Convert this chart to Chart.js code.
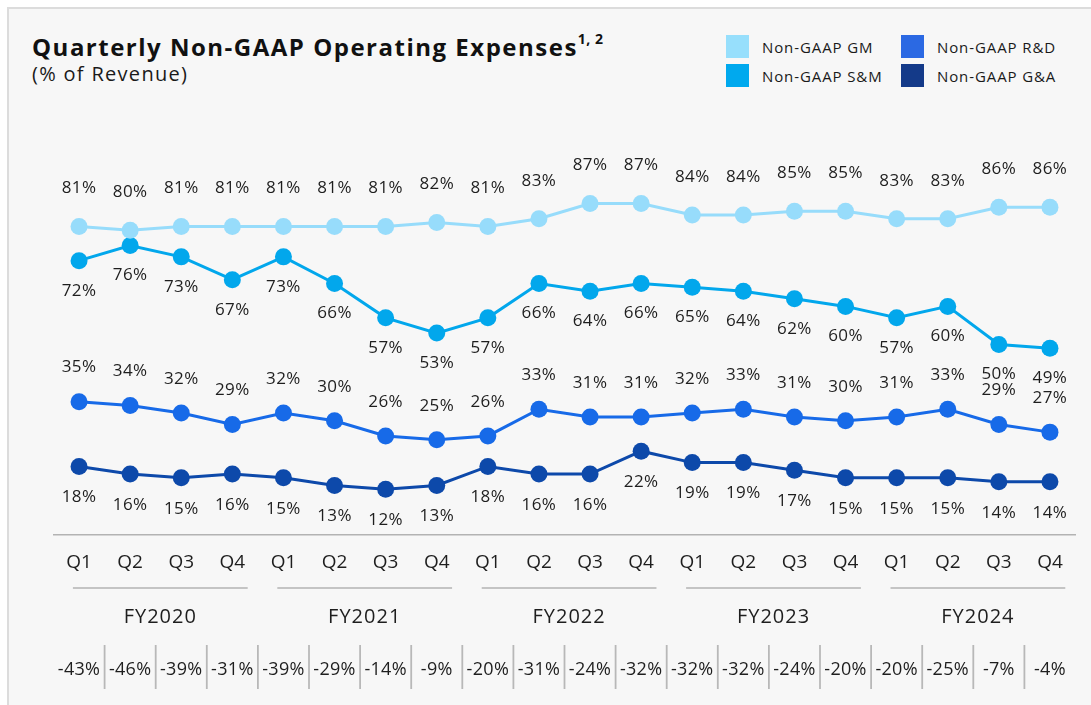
<!DOCTYPE html>
<html>
<head>
<meta charset="utf-8">
<script src="https://cdn.jsdelivr.net/npm/chart.js@4.4.1/dist/chart.umd.min.js"></script>
<style>
    html, body { margin: 0; padding: 0; width: 1091px; height: 705px; overflow: hidden; background: #fff; font-family: "Open Sans", sans-serif; color: #1a1a1a; }
    #panel { position: absolute; left: 7px; top: 7px; width: 1200px; height: 800px; background: #f7f7f7; border-top: 2px solid #dcdcdc; border-left: 2px solid #dcdcdc; }
    #title { position: absolute; left: 32px; top: 35px; font-size: 24px; line-height: 24px; font-weight: 700; color: #111; white-space: nowrap; letter-spacing: 1.5px; }
    #title sup { font-size: 14px; position: relative; top: -3px; vertical-align: top; line-height: 14px; letter-spacing: 0.5px; }
    #subtitle { position: absolute; left: 32px; top: 64px; font-size: 20px; line-height: 20px; color: #1a1a1a; white-space: nowrap; letter-spacing: 1.3px; }
    .legend-item { position: absolute; display: flex; align-items: center; font-size: 15px; color: #1a1a1a; white-space: nowrap; letter-spacing: 0.9px; }
    .legend-item span { display: inline-block; width: 23px; height: 23px; margin-right: 13px; }
    #chart { position: absolute; left: 0; top: 0; }
</style>
</head>
<body>
<div id="panel"></div>
<div id="title">Quarterly Non-GAAP Operating Expenses<sup>1, 2</sup></div>
<div id="subtitle">(% of Revenue)</div>
<div id="legend"></div>
<canvas id="chart" width="1091" height="705"></canvas>
<script>
var quarters = ["Q1", "Q2", "Q3", "Q4", "Q1", "Q2", "Q3", "Q4", "Q1", "Q2", "Q3", "Q4",
    "Q1", "Q2", "Q3", "Q4", "Q1", "Q2", "Q3", "Q4"];
var fiscalYears = ["FY2020", "FY2021", "FY2022", "FY2023", "FY2024"];

var gmPct = [81, 80, 81, 81, 81, 81, 81, 82, 81, 83, 87, 87, 84, 84, 85, 85, 83, 83, 86, 86];
var smPct = [72, 76, 73, 67, 73, 66, 57, 53, 57, 66, 64, 66, 65, 64, 62, 60, 57, 60, 50, 49];
var rdPct = [35, 34, 32, 29, 32, 30, 26, 25, 26, 33, 31, 31, 32, 33, 31, 30, 31, 33, 29, 27];
var gaPct = [18, 16, 15, 16, 15, 13, 12, 13, 18, 16, 16, 22, 19, 19, 17, 15, 15, 15, 14, 14];
var bottomRowPct = [-43, -46, -39, -31, -39, -29, -14, -9, -20, -31, -24, -32, -32, -32, -24, -20, -20, -25, -7, -4];

var seriesNames = ["Non-GAAP GM", "Non-GAAP S&M", "Non-GAAP R&D", "Non-GAAP G&A"];
var seriesColors = ["#97dcfb", "#02a7ec", "#176ae8", "#0d49aa"];
var legendColors = ["#97dffc", "#00a9ee", "#2b69e3", "#143a89"];
// label above (-) or below (+) the point
var labelOffsets = [-38, 30, -34, 31];

var TEXT_COLOR = "#1e1e1e";
var FONT = '"Open Sans", sans-serif';

// legend, 2 columns
var legendPos = [[726, 35], [726, 64], [901, 35], [901, 64]];
var legendBox = document.getElementById("legend");
seriesNames.forEach(function (name, i) {
    var item = document.createElement("div");
    item.className = "legend-item";
    item.style.left = legendPos[i][0] + "px";
    item.style.top = legendPos[i][1] + "px";
    var sw = document.createElement("span");
    sw.style.background = legendColors[i];
    item.appendChild(sw);
    item.appendChild(document.createTextNode(name));
    legendBox.appendChild(item);
});

var valueLabels = {
    id: "valueLabels",
    afterDatasetsDraw: function (chart) {
        var ctx = chart.ctx;
        ctx.save();
        ctx.font = "17px " + FONT;
        ctx.letterSpacing = "0.4px";
        ctx.fillStyle = TEXT_COLOR;
        ctx.textAlign = "center";
        ctx.textBaseline = "middle";
        chart.data.datasets.forEach(function (ds, i) {
            chart.getDatasetMeta(i).data.forEach(function (pt, j) {
                ctx.fillText(ds.data[j] + "%", pt.x, pt.y + labelOffsets[i]);
            });
        });
        ctx.restore();
    }
};

var fyGroups = {
    id: "fyGroups",
    afterDraw: function (chart) {
        var ctx = chart.ctx;
        var x = chart.scales.x;
        var step = x.getPixelForValue(1) - x.getPixelForValue(0);
        ctx.save();
        ctx.strokeStyle = "#b3b3b3";
        ctx.lineWidth = 1.5;
        ctx.font = "20px " + FONT;
        ctx.letterSpacing = "1px";
        ctx.fillStyle = TEXT_COLOR;
        ctx.textAlign = "center";
        ctx.textBaseline = "middle";
        fiscalYears.forEach(function (fy, f) {
            var x1 = x.getPixelForValue(f * 4) - 0.12 * step;
            var x2 = x.getPixelForValue(f * 4 + 3) + 0.3 * step;
            ctx.beginPath();
            ctx.moveTo(x1, 588);
            ctx.lineTo(x2, 588);
            ctx.stroke();
            ctx.fillText(fy, (x1 + x2) / 2, 617);
        });
        ctx.restore();
    }
};

var bottomRow = {
    id: "bottomRow",
    afterDraw: function (chart) {
        var ctx = chart.ctx;
        var x = chart.scales.x;
        ctx.save();
        ctx.strokeStyle = "#b8b8b8";
        ctx.lineWidth = 1.8;
        ctx.font = "18px " + FONT;
        ctx.letterSpacing = "0.3px";
        ctx.fillStyle = TEXT_COLOR;
        ctx.textAlign = "center";
        ctx.textBaseline = "middle";
        bottomRowPct.forEach(function (v, i) {
            var px = x.getPixelForValue(i);
            ctx.fillText(v + "%", px, 670);
            if (i < bottomRowPct.length - 1) {
                var sx = (px + x.getPixelForValue(i + 1)) / 2;
                ctx.beginPath();
                ctx.moveTo(sx, 645);
                ctx.lineTo(sx, 689);
                ctx.stroke();
            }
        });
        ctx.restore();
    }
};

var allSeries = [gmPct, smPct, rdPct, gaPct];
var datasets = allSeries.map(function (values, i) {
    return {
        label: seriesNames[i],
        data: values,
        borderColor: seriesColors[i],
        backgroundColor: seriesColors[i],
        pointBackgroundColor: seriesColors[i],
        borderWidth: 3,
        pointRadius: 8.5,
        pointBorderWidth: 0,
        tension: 0,
        fill: false
    };
});

Chart.defaults.font.family = FONT;

new Chart(document.getElementById("chart").getContext("2d"), {
    type: "line",
    data: { labels: quarters, datasets: datasets },
    options: {
        responsive: false,
        animation: false,
        layout: { padding: { top: 154, left: 53.5, right: 15.5, bottom: 0 } },
        plugins: { legend: { display: false }, tooltip: { enabled: false } },
        scales: {
            x: {
                offset: true,
                grid: { display: false, drawTicks: false },
                border: { display: true, color: "#b3b3b3", width: 1.5 },
                ticks: { color: TEXT_COLOR, font: { size: 19 }, padding: 16, autoSkip: false, maxRotation: 0 },
                afterFit: function (scale) { scale.height = 170; }
            },
            y: { display: false, min: 0, max: 100 }
        }
    },
    plugins: [valueLabels, fyGroups, bottomRow]
});
</script>
</body>
</html>
